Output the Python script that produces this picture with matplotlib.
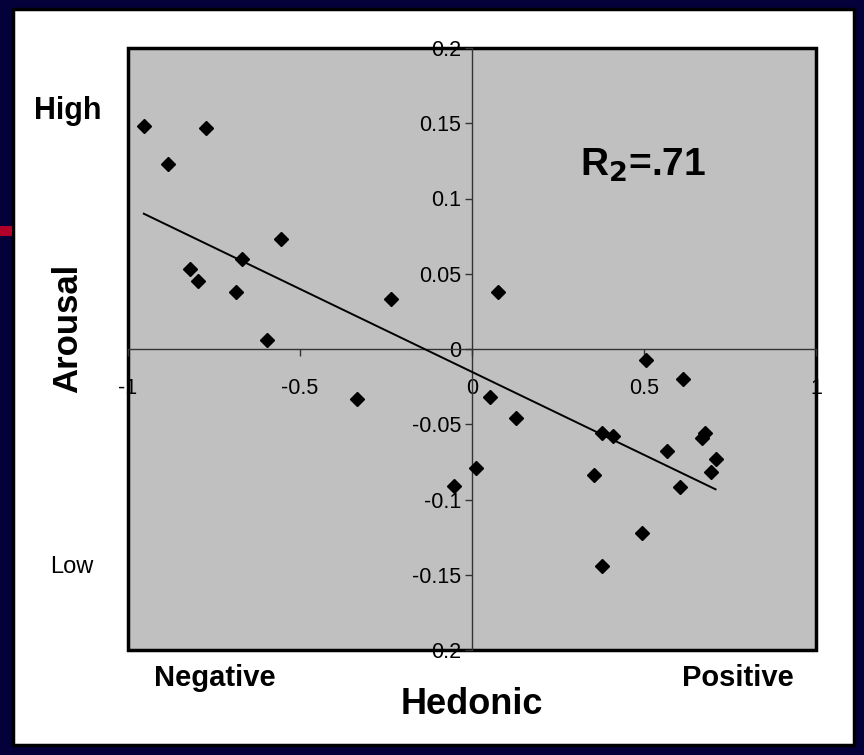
import matplotlib
matplotlib.use("Agg")
import matplotlib.pyplot as plt
from matplotlib.patches import Rectangle
from matplotlib.ticker import FixedLocator, FixedFormatter
import numpy as np

plt.rcParams['font.family'] = ['Liberation Sans', 'DejaVu Sans']
plt.rcParams['axes.unicode_minus'] = False

# Hedonic (x) vs Arousal (y) values
hedonic = [-0.954, -0.773, -0.884, -0.556, -0.668, -0.820, -0.797, -0.686, -0.597,
           -0.236, 0.075, -0.334, 0.052, 0.127, 0.011, -0.053,
           0.507, 0.613, 0.379, 0.409, 0.677, 0.670, 0.567, 0.708, 0.695,
           0.356, 0.606, 0.495, 0.379]
arousal = [0.148, 0.147, 0.123, 0.073, 0.060, 0.053, 0.045, 0.038, 0.006,
           0.033, 0.038, -0.033, -0.032, -0.046, -0.079, -0.091,
           -0.007, -0.020, -0.056, -0.058, -0.056, -0.059, -0.068, -0.073, -0.082,
           -0.084, -0.092, -0.122, -0.144]

x_ticks = [-1, -0.5, 0, 0.5, 1]
x_labels = ['-1', '-0.5', '0', '0.5', '1']
y_ticks = [0.2, 0.15, 0.1, 0.05, 0, -0.05, -0.1, -0.15, -0.2]
y_labels = ['0.2', '0.15', '0.1', '0.05', '0', '-0.05', '-0.1', '-0.15', '0.2']

navy = '#03003a'
fig = plt.figure(figsize=(8.64, 7.55), dpi=100, facecolor=navy)

# white slide panel and the small red mark on the left edge
fig.patches.append(Rectangle((13 / 864, 10 / 755), 841 / 864, 736 / 755, transform=fig.transFigure,
                             facecolor='white', edgecolor='black', linewidth=2.5, zorder=-5))
fig.patches.append(Rectangle((0, 519 / 755), 12 / 864, 10 / 755, transform=fig.transFigure,
                             facecolor='#b0002a', edgecolor='none', zorder=-5))

ax = fig.add_axes([128 / 864, 105 / 755, 688 / 864, 602 / 755])
ax.set_zorder(2)
ax.set_facecolor('#c0c0c0')
ax.patch.set_edgecolor('black')
ax.patch.set_linewidth(2.5)

# trend line (least squares over the points)
slope, icept = np.polyfit(hedonic, arousal, 1)
xs = np.array([min(hedonic), max(hedonic)])
ax.plot(xs, slope * xs + icept, color='black', linewidth=1.4, zorder=3)

ax.plot(hedonic, arousal, linestyle='none', marker='D', markersize=6.8,
        color='black', zorder=4)

ax.set_xlim(-1, 1)
ax.set_ylim(-0.2, 0.2)
for side in ['top', 'right']:
    ax.spines[side].set_visible(False)
ax.spines['left'].set_position(('data', 0))
ax.spines['bottom'].set_position(('data', 0))
for side in ['left', 'bottom']:
    ax.spines[side].set_color('#333333')
    ax.spines[side].set_linewidth(1)

ax.xaxis.set_major_locator(FixedLocator(x_ticks))
ax.xaxis.set_major_formatter(FixedFormatter(x_labels))
ax.yaxis.set_major_locator(FixedLocator(y_ticks))
ax.yaxis.set_major_formatter(FixedFormatter(y_labels))
ax.tick_params(axis='both', direction='out', length=5, width=1, color='#333333',
               labelsize=15.5, labelcolor='black')
ax.tick_params(axis='y', pad=3)
ax.tick_params(axis='x', pad=16)

# annotations
ax.text(0.314, 0.122, 'R$_\\mathbf{2}$=.71', fontsize=28, fontweight='bold', ha='left', va='center')
fig.text(68 / 864, 1 - 111 / 755, 'High', fontsize=22, fontweight='bold', ha='center', va='center')
fig.text(72 / 864, 1 - 567 / 755, 'Low', fontsize=17, ha='center', va='center')
fig.text(68 / 864, 1 - 328 / 755, 'Arousal', fontsize=25, fontweight='bold', rotation=90,
         ha='center', va='center')
fig.text(215 / 864, 1 - 678 / 755, 'Negative', fontsize=21, fontweight='bold', ha='center', va='center')
fig.text(738 / 864, 1 - 678 / 755, 'Positive', fontsize=21, fontweight='bold', ha='center', va='center')
fig.text(472 / 864, 1 - 704 / 755, 'Hedonic', fontsize=26, fontweight='bold', ha='center', va='center')

fig.savefig('out.png', dpi=100, facecolor=navy)
